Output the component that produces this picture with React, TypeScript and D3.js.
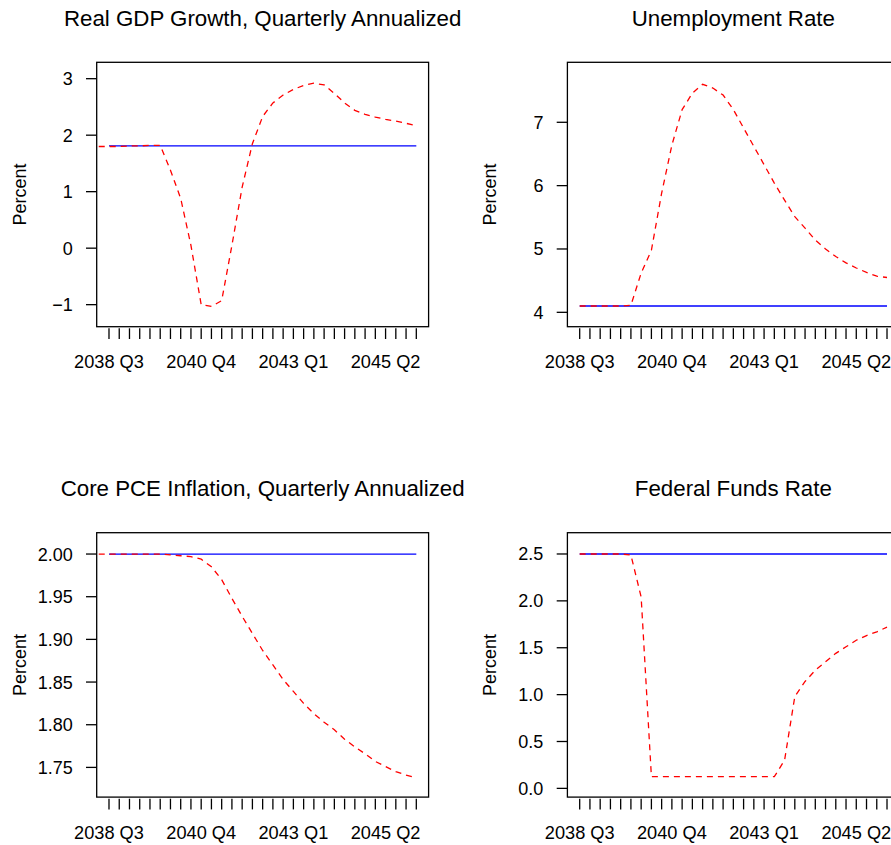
import * as d3 from "d3";

// quarters 2038 Q3 .. 2046 Q1 -> index 0..30
const quarterCount = 31;
const xTickIndex = [0, 9, 18, 27];
const xTickLabels = ["2038 Q3", "2040 Q4", "2043 Q1", "2045 Q2"];

// baseline (blue, solid) and alternative (red, dashed) paths
const gdpBase = Array(31).fill(1.81);
const gdpAlt = [
  1.8, 1.8, 1.8, 1.81, 1.81, 1.82, 1.82, 1.38, 0.88, 0.05, -1.0, -1.03, -0.93,
  0.05, 1.08, 1.85, 2.33, 2.57, 2.71, 2.81, 2.88, 2.92, 2.89, 2.74, 2.57, 2.44,
  2.37, 2.32, 2.28, 2.25, 2.21, 2.17,
]; // starts one quarter before 2038 Q3

const unempBase = Array(31).fill(4.1);
const unempAlt = [
  4.1, 4.1, 4.1, 4.1, 4.1, 4.11, 4.62, 4.98, 5.88, 6.64, 7.2, 7.46, 7.6, 7.54,
  7.43, 7.2, 6.91, 6.62, 6.33, 6.04, 5.77, 5.51, 5.33, 5.14, 5.0, 4.88, 4.78,
  4.7, 4.63, 4.57, 4.55,
];

const pceBase = Array(31).fill(2.0);
const pceAlt = [
  2.0, 2.0, 2.0, 2.0, 2.0, 2.0, 2.0, 1.999, 1.998, 1.997, 1.994, 1.985, 1.97,
  1.948, 1.927, 1.907, 1.887, 1.87, 1.853, 1.839, 1.825, 1.813, 1.803, 1.794,
  1.783, 1.774, 1.766, 1.757, 1.751, 1.745, 1.741, 1.738,
]; // starts one quarter before 2038 Q3

const fedBase = Array(31).fill(2.5);
const fedAlt = [
  2.5, 2.5, 2.5, 2.5, 2.5, 2.49, 2.04, 0.125, 0.125, 0.125, 0.125, 0.125,
  0.125, 0.125, 0.125, 0.125, 0.125, 0.125, 0.125, 0.125, 0.3, 0.98, 1.14,
  1.26, 1.35, 1.44, 1.51, 1.58, 1.63, 1.67, 1.72,
];

const panels = [
  {
    title: "Real GDP Growth, Quarterly Annualized",
    base: gdpBase,
    alt: gdpAlt,
    altStart: -1,
    yLim: [-1.39, 3.29],
    yTicks: [-1, 0, 1, 2, 3],
    fmt: (v: number) => (v < 0 ? "\u2212" + Math.abs(v) : String(v)),
  },
  {
    title: "Unemployment Rate",
    base: unempBase,
    alt: unempAlt,
    altStart: 0,
    yLim: [3.773, 7.947],
    yTicks: [4, 5, 6, 7],
    fmt: (v: number) => String(v),
  },
  {
    title: "Core PCE Inflation, Quarterly Annualized",
    base: pceBase,
    alt: pceAlt,
    altStart: -1,
    yLim: [1.7152, 2.025],
    yTicks: [1.75, 1.8, 1.85, 1.9, 1.95, 2.0],
    fmt: d3.format(".2f"),
  },
  {
    title: "Federal Funds Rate",
    base: fedBase,
    alt: fedAlt,
    altStart: 0,
    yLim: [-0.093, 2.727],
    yTicks: [0, 0.5, 1, 1.5, 2, 2.5],
    fmt: d3.format(".1f"),
  },
];

const FONT = "'Liberation Sans', Arial, Helvetica, sans-serif";
const boxW = 331.9;
const boxH = 264.4;
const cellW = 470.7;
const cellH = 470.4;
const boxX0 = 96.7;
const boxY0 = 62.3;

function Panel({ p, col, row }: { p: (typeof panels)[number]; col: number; row: number }) {
  const left = boxX0 + col * cellW;
  const top = boxY0 + row * cellH;
  const pad = (quarterCount - 1) * 0.04;
  const x = d3
    .scaleLinear()
    .domain([-pad, quarterCount - 1 + pad])
    .range([left, left + boxW]);
  const y = d3.scaleLinear().domain(p.yLim).range([top + boxH, top]);

  const line = d3
    .line<[number, number]>()
    .x((d) => x(d[0]))
    .y((d) => y(d[1]));
  const basePts = p.base.map((v, i) => [i, v] as [number, number]);
  const altPts = p.alt.map((v, i) => [i + p.altStart, v] as [number, number]);
  const bottom = top + boxH;
  const cx = left + boxW / 2;
  const cy = top + boxH / 2;

  return (
    <g>
      <text
        x={cx}
        y={top - 36.6}
        textAnchor="middle"
        fontSize={22.3}
        fontFamily={FONT}
        fill="#000"
      >
        {p.title}
      </text>
      <text
        transform={`translate(${left - 71.2},${cy}) rotate(-90)`}
        textAnchor="middle"
        fontSize={18}
        fontFamily={FONT}
        fill="#000"
      >
        Percent
      </text>
      <clipPath id={`clip-${row}-${col}`}>
        <rect x={left} y={top} width={boxW} height={boxH} />
      </clipPath>
      <g clipPath={`url(#clip-${row}-${col})`}>
        <path d={line(basePts) ?? ""} fill="none" stroke="#0000FF" strokeWidth={1.3} />
        <path
          d={line(altPts) ?? ""}
          fill="none"
          stroke="#FF0000"
          strokeWidth={1.3}
          strokeDasharray="6 5"
        />
      </g>
      <rect x={left} y={top} width={boxW} height={boxH} fill="none" stroke="#000" strokeWidth={1.3} />
      {p.yTicks.map((t) => (
        <g key={t}>
          <line x1={left - 10.7} x2={left} y1={y(t)} y2={y(t)} stroke="#000" strokeWidth={1.3} />
          <text
            x={left - 24}
            y={y(t)}
            dy="0.36em"
            textAnchor="end"
            fontSize={18}
            fontFamily={FONT}
            fill="#000"
          >
            {p.fmt(t)}
          </text>
        </g>
      ))}
      {d3.range(quarterCount).map((i) => (
        <line
          key={i}
          x1={x(i)}
          x2={x(i)}
          y1={bottom + 1.6}
          y2={bottom + 12.3}
          stroke="#000"
          strokeWidth={1.3}
        />
      ))}
      {xTickIndex.map((i, k) => (
        <text
          key={i}
          x={x(i)}
          y={bottom + 41.6}
          textAnchor="middle"
          fontSize={18.2}
          fontFamily={FONT}
          fill="#000"
        >
          {xTickLabels[k]}
        </text>
      ))}
    </g>
  );
}

export default function App() {
  return (
    <svg
      width={891}
      height={845}
      style={{ position: "absolute", left: 0, top: 0, background: "#fff" }}
    >
      <rect width={891} height={845} fill="#fff" />
      {panels.map((p, k) => (
        <Panel key={k} p={p} col={k % 2} row={Math.floor(k / 2)} />
      ))}
    </svg>
  );
}
